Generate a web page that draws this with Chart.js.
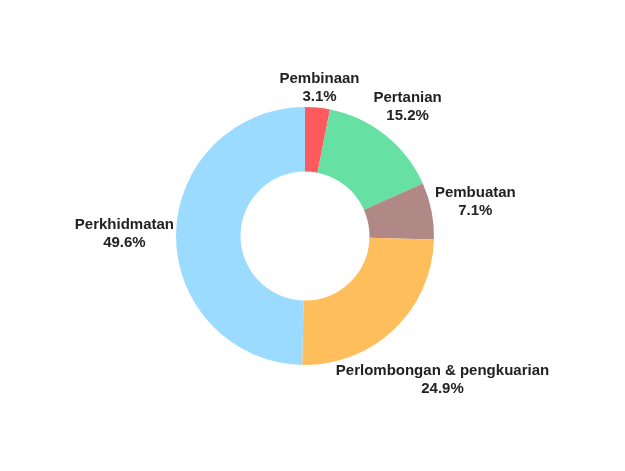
<!DOCTYPE html>
<html>
<head>
<meta charset="utf-8">
<script src="https://cdn.jsdelivr.net/npm/chart.js@4"></script>
<style>
  html, body { margin: 0; padding: 0; background: #ffffff; }
  #wrap { width: 625px; height: 471px; position: relative; }
</style>
</head>
<body>
<div id="wrap"><canvas id="c" width="625" height="471"></canvas></div>
<script>
const categories = ["Pembinaan", "Pertanian", "Pembuatan", "Perlombongan & pengkuarian", "Perkhidmatan"];
const shares = [3.1, 15.2, 7.1, 24.9, 49.6];
const sliceColors = ["#FF5A5E", "#66E0A3", "#B08886", "#FFBE5C", "#9BDBFF"];

const outsideLabels = {
  id: 'outsideLabels',
  afterDatasetsDraw(chart) {
    const ctx = chart.ctx;
    const meta = chart.getDatasetMeta(0);
    const lineH = 18, pad = 2;
    ctx.save();
    ctx.font = 'bold 15px "Liberation Sans", Arial, sans-serif';
    ctx.fillStyle = '#222222';
    ctx.textAlign = 'center';
    ctx.textBaseline = 'middle';
    meta.data.forEach((arc, i) => {
      const p = arc.getProps(['x', 'y', 'startAngle', 'endAngle', 'outerRadius'], true);
      const a = (p.startAngle + p.endAngle) / 2;
      const ux = Math.cos(a), uy = Math.sin(a);
      const l1 = chart.data.labels[i];
      const l2 = chart.data.datasets[0].data[i].toFixed(1) + '%';
      const hw = Math.max(ctx.measureText(l1).width, ctx.measureText(l2).width) / 2;
      const hh = 17;
      const target = p.outerRadius + pad;
      const minDist = (d) => {
        const cx = p.x + ux * d, cy = p.y + uy * d;
        const px = Math.min(Math.max(p.x, cx - hw), cx + hw);
        const py = Math.min(Math.max(p.y, cy - hh), cy + hh);
        return Math.hypot(px - p.x, py - p.y);
      };
      let lo = 0, hi = 1000;
      for (let k = 0; k < 60; k++) {
        const mid = (lo + hi) / 2;
        if (minDist(mid) < target) lo = mid; else hi = mid;
      }
      const cx = p.x + ux * hi, cy = p.y + uy * hi;
      ctx.fillText(l1, cx, cy - lineH / 2);
      ctx.fillText(l2, cx, cy + lineH / 2);
    });
    ctx.restore();
  }
};

new Chart(document.getElementById('c'), {
  type: 'doughnut',
  data: {
    labels: categories,
    datasets: [{
      data: shares,
      backgroundColor: sliceColors,
      borderWidth: 0,
      hoverOffset: 0
    }]
  },
  options: {
    responsive: false,
    maintainAspectRatio: false,
    animation: false,
    cutout: '50%',
    layout: { padding: { left: 176, right: 191, top: 107, bottom: 106 } },
    plugins: {
      legend: { display: false },
      tooltip: { enabled: false }
    }
  },
  plugins: [outsideLabels]
});
</script>
</body>
</html>
